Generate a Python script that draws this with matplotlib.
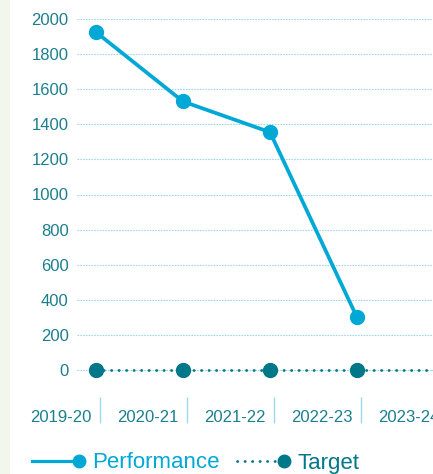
import matplotlib.pyplot as plt
from matplotlib.lines import Line2D
from matplotlib.legend_handler import HandlerLine2D

plt.rcParams['font.family'] = ['Liberation Sans', 'DejaVu Sans']

years = ['2019-20', '2020-21', '2021-22', '2022-23', '2023-24']
performance = [1925, 1530, 1355, 300]
target = [0, 0, 0, 0, 0]
y_ticks = [0, 200, 400, 600, 800, 1000, 1200, 1400, 1600, 1800, 2000]

perf_color = '#00a8d6'
target_color = '#00788a'
label_color = '#1b7f8d'
grid_color = '#9fd8ee'
dots = (0, (0.1, 2.6))


class EndMarkerHandler(HandlerLine2D):
    # legend entry with the marker at the right end of the line
    def create_artists(self, legend, orig_handle, xdescent, ydescent, width, height, fontsize, trans):
        artists = super().create_artists(legend, orig_handle, xdescent, ydescent,
                                         width, height, fontsize, trans)
        line = artists[0]
        line.set_markevery([len(line.get_xdata()) - 1])
        return artists


fig = plt.figure(figsize=(4.33, 4.74), dpi=100)
fig.patch.set_facecolor('white')
# light strip at the left edge
fig.add_artist(plt.Rectangle((0, 0), 10 / 433, 1, transform=fig.transFigure,
                             facecolor='#f3f6ec', edgecolor='none', zorder=0))

ax = fig.add_axes([77 / 433, 1 - 397 / 474, 1 - 77 / 433, (397 - 19) / 474])
ax.set_facecolor('none')

x_perf = list(range(len(performance)))
x_target = list(range(len(target)))

ax.plot(x_perf, performance, color=perf_color, lw=2.7, marker='o', ms=10,
        clip_on=False, zorder=4, solid_capstyle='round')
ax.plot(x_target, target, color=target_color, lw=2.0, linestyle=dots,
        marker='o', ms=10, clip_on=False, zorder=3, dash_capstyle='round')

# y axis
ax.set_yticks(y_ticks)
ax.set_yticklabels([str(v) for v in y_ticks])
ax.yaxis.grid(True, color=grid_color, lw=0.8, linestyle=(0, (1.5, 1)))
ax.tick_params(axis='y', length=0, pad=6, labelsize=12, labelcolor=label_color)

# x axis: separators at category boundaries, labels between them
ax.set_xticks([i + 0.045 for i in range(len(years))])
ax.set_xticklabels([])
ax.tick_params(axis='x', which='major', length=19, width=1, color=grid_color, direction='out')

span = 2000 / 351.0
ax.set_ylim(-27 * span, 2000)
ax.set_xlim(-19 / 87, (433 - 96) / 87)

label_trans = ax.get_xaxis_transform()
for i, yr in enumerate(years):
    ax.text(i - 0.4, -21 / 378, yr, transform=label_trans, ha='center', va='center',
            fontsize=12, color=label_color, clip_on=False)

for s in ax.spines.values():
    s.set_visible(False)

handles = [
    Line2D([], [], color=perf_color, lw=2.3, marker='o', ms=9),
    Line2D([], [], color=target_color, lw=2.0, linestyle=dots, marker='o', ms=9,
           dash_capstyle='round'),
]
fig.legend(handles, ['Performance', 'Target'], loc='center left',
           bbox_to_anchor=(12 / 433, 1 - 463 / 474), ncol=2, frameon=False,
           numpoints=1, handlelength=2.1, handletextpad=0.6, columnspacing=0.8,
           fontsize=16, labelcolor=[perf_color, target_color],
           handler_map={Line2D: EndMarkerHandler()})

fig.savefig('out.png', dpi=100)
